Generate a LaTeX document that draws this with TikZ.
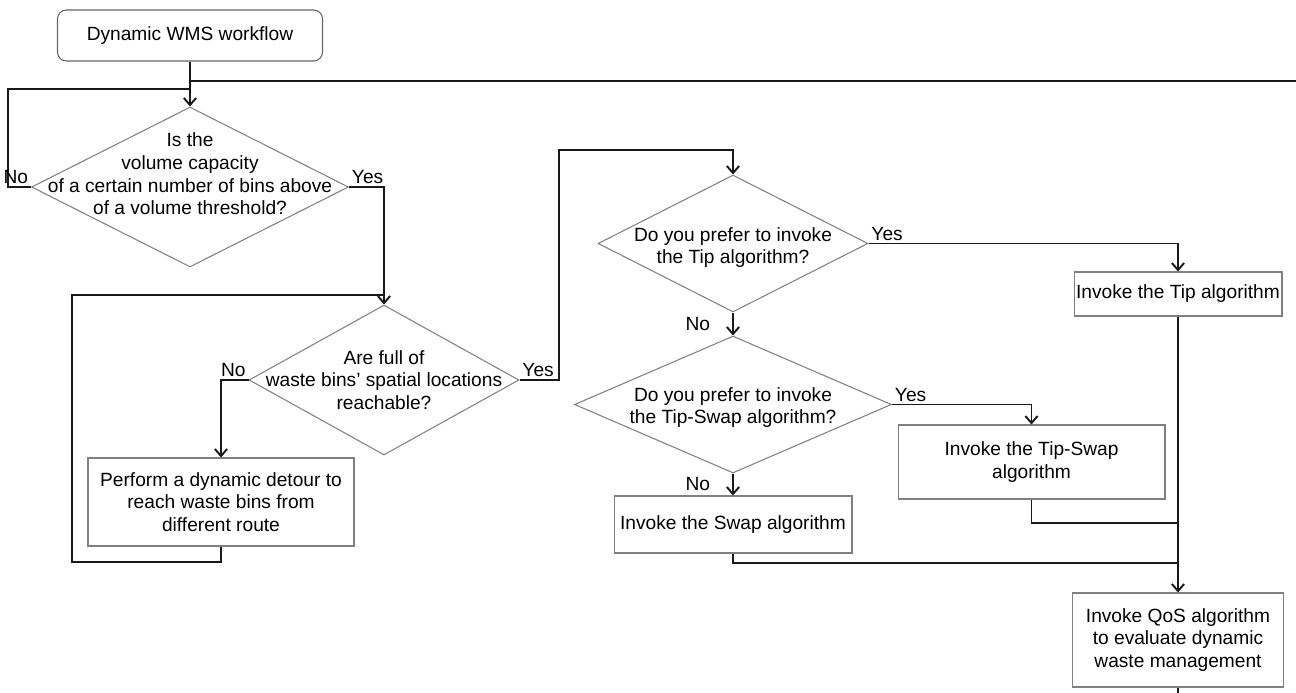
\documentclass[tikz,border=0pt]{standalone}
\usepackage{fontspec}
\setmainfont{Liberation Sans}
\usepackage{tikz}
\usetikzlibrary{shapes.geometric, arrows.meta, positioning, calc}

\tikzset{
  decision/.style={diamond, draw=black!50, line width=0.6pt, inner sep=0pt},
  process/.style={rectangle, draw=black!50, line width=0.6pt, align=center, inner sep=1pt},
  startstop/.style={process, draw=black!60, rounded corners=5pt},
  link/.style={draw=black!90, line width=1.1pt},
  flow/.style={link, -{Straight Barb[length=4pt,width=7pt]}},
  answer/.style={inner sep=1.5pt},
}

\begin{document}
\begin{tikzpicture}[x=0.02cm, y=-0.02cm, font=\fontsize{10.9}{12.9}\selectfont]
\useasboundingbox (0,0) rectangle (1296,693);

% Start
\node[startstop, minimum width=5.3cm, minimum height=1.02cm] (start) at (190,35.5) {Dynamic WMS workflow};

% Volume check
\node[decision, minimum width=6.34cm, minimum height=3.2cm,
  label={[align=center, yshift=0.26cm]center:Is the\\volume capacity\\of a certain number of bins above\\of a volume threshold?}] (vol) at (190,187) {};

% Reachability check
\node[decision, minimum width=5.4cm, minimum height=3cm,
  label={[align=center]center:Are full of\\waste bins’ spatial locations\\reachable?}] (reach) at (384,380) {};

% Detour
\node[process, minimum width=5.32cm, minimum height=1.76cm] (detour) at (221,502) {Perform a dynamic detour to\\reach waste bins from\\different route};

% Tip
\node[decision, minimum width=5.4cm, minimum height=2.74cm,
  label={[align=center, yshift=-0.08cm]center:Do you prefer to invoke\\the Tip algorithm?}] (asktip) at (733,243.5) {};
\node[process, minimum width=4.16cm, minimum height=0.88cm] (tip) at (1178,294) {Invoke the Tip algorithm};

% Tip-Swap and Swap
\node[decision, minimum width=6.34cm, minimum height=2.74cm,
  label={[align=center, yshift=-0.06cm]center:Do you prefer to invoke\\the Tip-Swap algorithm?}] (asktipswap) at (733,404.5) {};
\node[process, minimum width=5.34cm, minimum height=1.48cm] (tipswap) at (1031.5,462) {Invoke the Tip-Swap\\algorithm};
\node[process, minimum width=4.76cm, minimum height=1.14cm] (swap) at (733,524.5) {Invoke the Swap algorithm};

% QoS
\node[process, minimum width=4.22cm, minimum height=1.88cm] (qos) at (1178,640) {Invoke QoS algorithm\\to evaluate dynamic\\waste management};

% bends and free ends
\coordinate (outtop) at (1296,81);
\coordinate (outbot) at (1178,693);
\coordinate (backvol) at (8,89);
\coordinate (backlow) at (72,562);
\coordinate (backhigh) at (72,295);
\coordinate (uptip) at (559,150);
\coordinate (joinswap) at (1178,563);
\coordinate (jointipswap) at (1178,523);

% connectors
\draw[flow] (start.south) -- (vol.north);
\draw[link] (start.south |- outtop) -- (outtop);
\draw[link] (vol.west) -| (backvol) -- (backvol -| vol.north);
\node[answer, anchor=south east] (volno) at (vol.west) {No};
\draw[flow] (vol.east) -| (reach.north);
\node[answer, anchor=south west] (volyes) at (vol.east) {Yes};

\draw[flow] (reach.west) -| (detour.north);
\node[answer, anchor=south east] (reachno) at (reach.west) {No};
\draw[link] (detour.south) |- (backlow) -- (backhigh) -- (backhigh -| reach.north);
\draw[flow] (reach.east) -| (uptip) -| (asktip.north);
\node[answer, anchor=south west] (reachyes) at (reach.east) {Yes};

\draw[flow] (asktip.east) -| (tip.north);
\node[answer, anchor=south west] (tipyes) at (asktip.east) {Yes};
\draw[flow] (asktip.south) -- node[answer, left=11pt] (tipno) {No} (asktipswap.north);

\draw[flow] (asktipswap.east) -| (tipswap.north);
\node[answer, anchor=south west] (tipswapyes) at (asktipswap.east) {Yes};
\draw[flow] (asktipswap.south) -- node[answer, left=11pt] (tipswapno) {No} (swap.north);

\draw[link] (swap.south) |- (joinswap);
\draw[link] (tipswap.south) |- (jointipswap);
\draw[flow] (tip.south) -- (qos.north);
\draw[link] (qos.south) -- (outbot);
\end{tikzpicture}
\end{document}
